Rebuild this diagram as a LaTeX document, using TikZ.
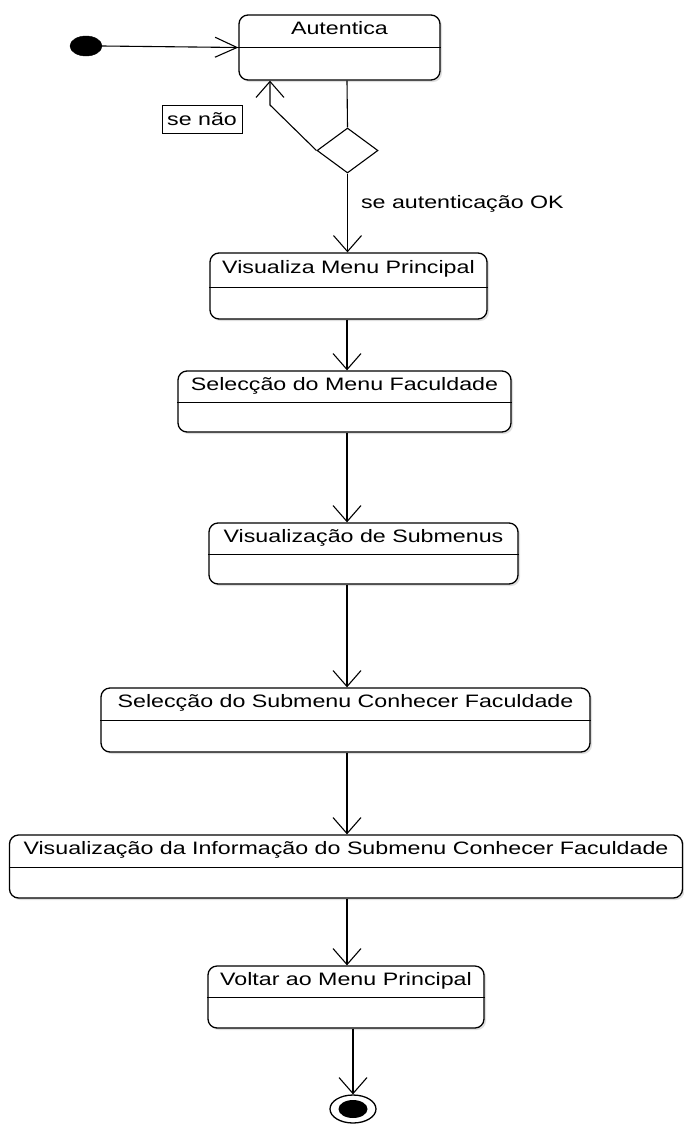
\documentclass[tikz,border=0pt]{standalone}
\usepackage{fontspec}
\setmainfont{Liberation Sans}[FakeStretch=1.29]
\usetikzlibrary{shapes.geometric,arrows.meta,shadows}
\begin{document}
\begin{tikzpicture}[x=1pt,y=-1pt,
  box/.style={draw, line width=1.3pt, rounded corners=9pt, inner sep=0pt, fill=white,
    drop shadow={shadow xshift=2pt, shadow yshift=-2pt, fill=black!25}},
  ttl/.style={anchor=base, inner sep=0pt, font=\fontsize{18pt}{20pt}\selectfont},
  divl/.style={line width=1.1pt},
  conn/.style={line width=1.1pt},
  vbarb/.style={conn, -{Straight Barb[length=16pt,width=28pt,line width=1.1pt]}},
  hbarb/.style={conn, -{Straight Barb[length=22pt,width=20pt,line width=1.1pt]}},
  lbl/.style={inner sep=0pt, font=\fontsize{18pt}{20pt}\selectfont}
]
\useasboundingbox (0,0) rectangle (684,1125);
\coordinate (col) at (347,0);

% initial node
\node[ellipse, fill=black, draw=black, minimum width=32pt, minimum height=20pt, inner sep=0pt] (init) at (86,46) {};

% Autentica
\node[box, minimum width=201pt, minimum height=65pt] (aut) at (339.5,47.5) {};
\draw[divl] ([yshift=-33pt]aut.north west) -- ([yshift=-33pt]aut.north east);
\node[ttl] (autT) at ([yshift=-20pt]aut.north) {Autentica};

% decision
\node[diamond, draw, line width=1.1pt, minimum width=61pt, minimum height=45pt, inner sep=0pt, fill=white] (dec) at (347.5,150.5) {};

% se nao label
\node[draw, line width=1pt, minimum width=80pt, minimum height=28pt, inner sep=0pt, font=\fontsize{18pt}{20pt}\selectfont] (senao) at (202,119) {se não};

% Visualiza Menu Principal
\node[box, minimum width=277pt, minimum height=66pt] (mp) at (348.5,286) {};
\draw[divl] ([yshift=-35pt]mp.north west) -- ([yshift=-35pt]mp.north east);
\node[ttl] (mpT) at ([yshift=-21pt]mp.north) {Visualiza Menu Principal};

% Seleccao do Menu Faculdade
\node[box, minimum width=333pt, minimum height=61pt] (sf) at (344.5,401.5) {};
\draw[divl] ([yshift=-32pt]sf.north west) -- ([yshift=-32pt]sf.north east);
\node[ttl] (sfT) at ([yshift=-20pt]sf.north) {Selecção do Menu Faculdade};

% Visualizacao de Submenus
\node[box, minimum width=309pt, minimum height=61pt] (sub) at (363.5,553.5) {};
\draw[divl] ([yshift=-32pt]sub.north west) -- ([yshift=-32pt]sub.north east);
\node[ttl] (subT) at ([yshift=-20pt]sub.north) {Visualização de Submenus};

% Seleccao do Submenu Conhecer Faculdade
\node[box, minimum width=489pt, minimum height=64pt] (ss) at (345.5,720) {};
\draw[divl] ([yshift=-33pt]ss.north west) -- ([yshift=-33pt]ss.north east);
\node[ttl] (ssT) at ([yshift=-20pt]ss.north) {Selecção do Submenu Conhecer Faculdade};

% Visualizacao da Informacao
\node[box, minimum width=673pt, minimum height=63pt] (info) at (346,866.5) {};
\draw[divl] ([yshift=-33pt]info.north west) -- ([yshift=-33pt]info.north east);
\node[ttl] (infoT) at ([yshift=-20pt]info.north) {Visualização da Informação do Submenu Conhecer Faculdade};

% Voltar ao Menu Principal
\node[box, minimum width=276pt, minimum height=62pt] (volt) at (346,997) {};
\draw[divl] ([yshift=-32pt]volt.north west) -- ([yshift=-32pt]volt.north east);
\node[ttl] (voltT) at ([yshift=-20pt]volt.north) {Voltar ao Menu Principal};

% final node
\node[ellipse, draw, line width=1.3pt, fill=white, minimum width=46pt, minimum height=28pt, inner sep=0pt] (fin) at (353,1109) {};
\node[ellipse, fill=black, minimum width=29pt, minimum height=18pt, inner sep=0pt] (finin) at (fin.center) {};

% connectors
\coordinate (ret) at (270,105);
\draw[hbarb] (init.east) -- (aut.west);
\draw[conn] (aut.south -| col) -- (dec.north);
\draw[vbarb] (dec.west) -- (ret) -- (aut.south -| ret);
\draw[vbarb] (dec.south) -- (mp.north -| dec.south)
  node[lbl, pos=0.4, anchor=base west, xshift=13pt, yshift=-3pt] (okT) {se autenticação OK};
\draw[vbarb] (mp.south -| col) -- (sf.north -| col);
\draw[vbarb] (sf.south -| col) -- (sub.north -| col);
\draw[vbarb] (sub.south -| col) -- (ss.north -| col);
\draw[vbarb] (ss.south -| col) -- (info.north -| col);
\draw[vbarb] (info.south -| col) -- (volt.north -| col);
\draw[vbarb] (volt.south -| fin) -- (fin.north);
\end{tikzpicture}
\end{document}
